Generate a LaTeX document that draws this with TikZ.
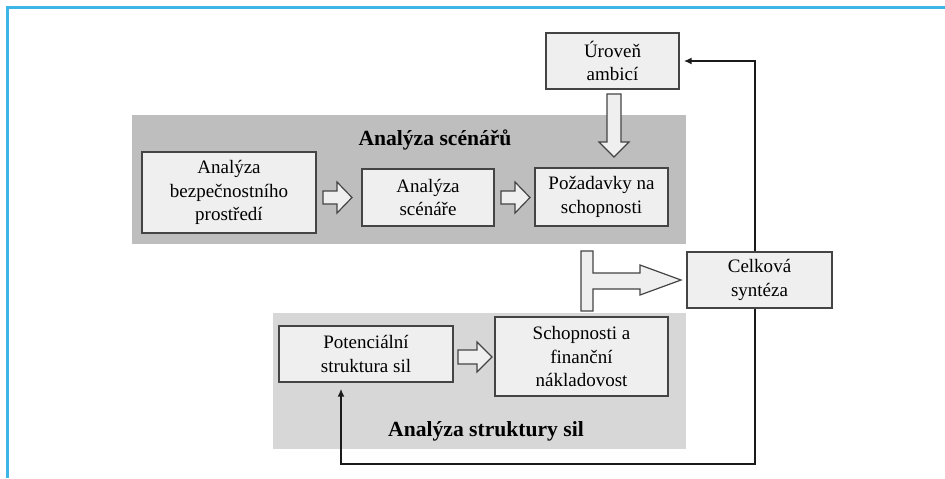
\documentclass[tikz,border=0pt]{standalone}
\usepackage{fontspec}
\setmainfont{Liberation Serif}
\usetikzlibrary{arrows.meta, calc}
\definecolor{framecyan}{HTML}{3DB5E6}
\definecolor{boxline}{HTML}{444444}
\definecolor{boxfill}{HTML}{EFEFEF}
\definecolor{panelscen}{HTML}{BEBEBE}
\definecolor{panelforce}{HTML}{D7D7D7}
\definecolor{linedark}{HTML}{1A1A1A}
\tikzset{
  stepbox/.style={draw=boxline, fill=boxfill, line width=0.7pt, align=center, inner sep=2pt,
                  font=\fontsize{9.5}{11.7}\selectfont},
  paneltitle/.style={font=\fontsize{10.8}{13}\selectfont\bfseries},
  blockarrow/.style={draw=boxline, fill=boxfill, line width=0.6pt},
  fbarrow/.style={-{Latex[length=4pt, width=3.5pt]}, line width=0.9pt, linedark},
}

\begin{document}
\begin{tikzpicture}[x=0.5pt, y=-0.5pt]
  \useasboundingbox (0,0) rectangle (945,478);

  % frame
  \draw[framecyan, line width=1.2pt] (945,7.5) -- (7.5,7.5) -- (7.5,478);

  % panels
  \fill[panelscen] (132,115) rectangle (686,244);
  \fill[panelforce] (273,313) rectangle (686,449);
  \node[paneltitle] (scentitle) at (435,140) {Analýza scénářů};
  \node[paneltitle] (forcetitle) at (486,431) {Analýza struktury sil};

  % boxes
  \node[stepbox, minimum width=66.5pt, minimum height=28pt] (ambition) at (612.5,61) {Úroveň\\ambicí};
  \node[stepbox, minimum width=87pt, minimum height=40.5pt] (secenv) at (229,192.5) {Analýza\\bezpečnostního\\prostředí};
  \node[stepbox, minimum width=66pt, minimum height=28.5pt] (scenan) at (428,197.5) {Analýza\\scénáře};
  \node[stepbox, minimum width=66.5pt, minimum height=29pt] (capreq) at (601.5,197) {Požadavky na\\schopnosti};
  \node[stepbox, minimum width=72.5pt, minimum height=28pt] (synth) at (759.5,280) {Celková\\syntéza};
  \node[stepbox, minimum width=87pt, minimum height=28pt] (forces) at (366,354) {Potenciální\\struktura sil};
  \node[stepbox, minimum width=86.5pt, minimum height=39.5pt] (capcost) at (581.5,356.5) {Schopnosti a\\finanční\\nákladovost};

  % block arrows
  \draw[blockarrow] (323,191) -- (337,191) -- (337,182) -- (352,197.5) -- (337,213) -- (337,204) -- (323,204) -- cycle;
  \draw[blockarrow] (501,191) -- (515,191) -- (515,182) -- (530,197.5) -- (515,213) -- (515,204) -- (501,204) -- cycle;
  \draw[blockarrow] (458,350) -- (477,350) -- (477,342) -- (492,357) -- (477,372) -- (477,364) -- (458,364) -- cycle;
  \draw[blockarrow] (607,94) -- (621,94) -- (621,142) -- (629,142) -- (614,157) -- (599,142) -- (607,142) -- cycle;
  \draw[blockarrow] (581,251) -- (593,251) -- (593,273) -- (640,273) -- (640,265) -- (681,280)
    -- (640,295) -- (640,289) -- (593,289) -- (593,311) -- (581,311) -- cycle;

  % feedback
  \coordinate (fbx) at (755,0);
  \coordinate (fbbot) at (341,464);
  \draw[fbarrow, shorten >=2pt] (synth.north -| fbx) |- (ambition.east);
  \draw[fbarrow, shorten >=3pt] (synth.south -| fbx) |- (fbbot) -- (fbbot |- forces.south);
\end{tikzpicture}
\end{document}
